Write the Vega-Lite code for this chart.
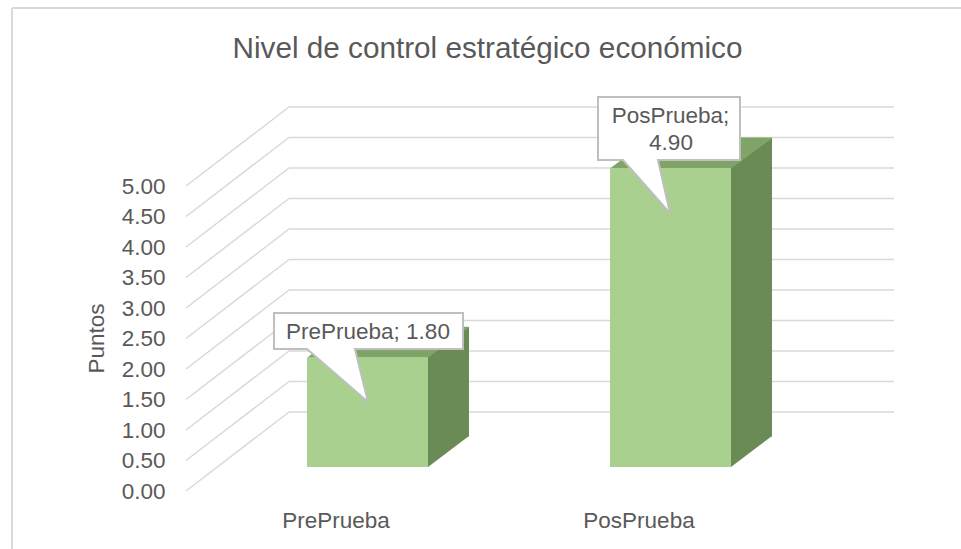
{
  "$schema": "https://vega.github.io/schema/vega-lite/v6.json",
  "width": 708,
  "height": 305,
  "autosize": "none",
  "padding": {"left": 186, "top": 162, "right": 67, "bottom": 82},
  "background": "white",
  "config": {
    "font": "Liberation Sans",
    "view": {"stroke": null},
    "axisY": {
      "domain": false,
      "ticks": false,
      "tickSize": 0,
      "grid": false,
      "labelFontSize": 22.5,
      "labelColor": "#595959",
      "labelOffset": 24,
      "labelPadding": 21,
      "labelOverlap": false,
      "titleFontSize": 22.5,
      "titleFontWeight": "normal",
      "titleColor": "#595959",
      "titleAngle": -90,
      "titleAlign": "center",
      "titleBaseline": "middle",
      "titleX": -89.5,
      "titleY": 176
    }
  },
  "title": {
    "text": "Nivel de control estratégico económico",
    "fontSize": 29.7,
    "fontWeight": "normal",
    "color": "#595959",
    "anchor": "middle",
    "frame": "group",
    "dx": -52.5,
    "baseline": "alphabetic",
    "offset": -81
  },
  "datasets": {
    "pruebas": [
      {"prueba": "PrePrueba", "puntos": 1.8, "linea_inferior": "PrePrueba; 1.80", "linea_superior": ""},
      {"prueba": "PosPrueba", "puntos": 4.9, "linea_inferior": "4.90", "linea_superior": "PosPrueba;"}
    ],
    "niveles": [
      {"nivel": 0}, {"nivel": 0.5}, {"nivel": 1}, {"nivel": 1.5}, {"nivel": 2}, {"nivel": 2.5},
      {"nivel": 3}, {"nivel": 3.5}, {"nivel": 4}, {"nivel": 4.5}, {"nivel": 5}
    ]
  },
  "resolve": {"scale": {"x": "independent"}},
  "layer": [
    {
      "data": {"values": [{}]},
      "mark": {"type": "rule", "color": "#D9D9D9", "strokeWidth": 2, "xOffset": -174, "yOffset": -154, "y2Offset": 82},
      "encoding": {
        "x": {"datum": 0, "type": "quantitative", "scale": {"domain": [0, 1]}, "axis": null},
        "y": {"datum": 5, "type": "quantitative", "axis": {"values": [0, 0.5, 1, 1.5, 2, 2.5, 3, 3.5, 4, 4.5, 5], "format": ".2f", "tickCount": 11, "labelOverlap": false, "title": "Puntos"}},
        "y2": {"datum": 0}
      }
    },
    {
      "data": {"values": [{}]},
      "mark": {"type": "rule", "color": "#D9D9D9", "strokeWidth": 2, "xOffset": -174, "x2Offset": 67, "yOffset": -154},
      "encoding": {
        "x": {"datum": 0, "type": "quantitative", "scale": {"domain": [0, 1]}, "axis": null},
        "x2": {"datum": 1},
        "y": {"datum": 5, "type": "quantitative", "axis": {"values": [0, 0.5, 1, 1.5, 2, 2.5, 3, 3.5, 4, 4.5, 5], "format": ".2f", "tickCount": 11, "labelOverlap": false, "title": "Puntos"}}
      }
    },
    {
      "data": {"name": "niveles"},
      "mark": {"type": "rule", "color": "#D9D9D9", "strokeWidth": 1.5, "xOffset": 103, "yOffset": -55},
      "encoding": {
        "x": {"datum": 0, "type": "quantitative", "scale": {"domain": [0, 1]}, "axis": null},
        "x2": {"datum": 1},
        "y": {"field": "nivel", "type": "quantitative", "axis": {"values": [0, 0.5, 1, 1.5, 2, 2.5, 3, 3.5, 4, 4.5, 5], "format": ".2f", "tickCount": 11, "labelOverlap": false, "title": "Puntos"}}
      }
    },
    {
      "data": {"name": "niveles"},
      "mark": {"type": "rule", "color": "#D9D9D9", "strokeWidth": 1.5, "x2Offset": 103, "yOffset": 24, "y2Offset": -55},
      "encoding": {
        "x": {"datum": 0, "type": "quantitative", "scale": {"domain": [0, 1]}, "axis": null},
        "x2": {"datum": 0},
        "y": {"field": "nivel", "type": "quantitative", "axis": {"values": [0, 0.5, 1, 1.5, 2, 2.5, 3, 3.5, 4, 4.5, 5], "format": ".2f", "tickCount": 11, "labelOverlap": false, "title": "Puntos"}},
        "y2": {"field": "nivel"}
      }
    },
    {
      "data": {"name": "pruebas"},
      "encoding": {
        "x": {
          "field": "prueba",
          "type": "nominal",
          "sort": ["PrePrueba", "PosPrueba"],
          "scale": {"paddingInner": 0.6007, "paddingOuter": 0.4686, "align": 0.426},
          "axis": {
            "title": null,
            "domain": false,
            "ticks": false,
            "tickSize": 0,
            "grid": false,
            "labelAngle": 0,
            "labelFontSize": 22.5,
            "labelColor": "#595959",
            "labelOffset": -31.5,
            "labelPadding": 60,
            "labelBaseline": "alphabetic"
          }
        },
        "y": {
          "field": "puntos",
          "type": "quantitative",
          "scale": {"domain": [0, 5], "nice": false},
          "axis": {"values": [0, 0.5, 1, 1.5, 2, 2.5, 3, 3.5, 4, 4.5, 5], "format": ".2f", "tickCount": 11, "labelOverlap": false, "title": "Puntos"}
        }
      },
      "layer": [
        {
          "mark": {"type": "bar", "width": 41, "xOffset": 81, "y2Offset": -30.5, "color": "#6A8A56"},
          "encoding": {"y2": {"datum": 0}}
        },
        {
          "mark": {"type": "point", "filled": true, "opacity": 1, "size": 40000, "color": "#6A8A56", "shape": "M0.605,-0.31 L1.015,-0.31 L0.605,0 Z"},
          "encoding": {"y": {"datum": 0, "type": "quantitative", "axis": {"values": [0, 0.5, 1, 1.5, 2, 2.5, 3, 3.5, 4, 4.5, 5], "format": ".2f", "tickCount": 11, "labelOverlap": false, "title": "Puntos"}}}
        },
        {
          "mark": {"type": "point", "filled": true, "opacity": 1, "size": 40000, "color": "#6A8A56", "shape": "M0.6,0 L1.015,-0.305 L1.015,0.01 L0.6,0.01 Z"}
        },
        {
          "mark": {"type": "point", "filled": true, "opacity": 1, "size": 40000, "color": "#80A468", "shape": "M-0.605,0.005 L0.605,0.005 L1.015,-0.305 L-0.195,-0.305 Z"}
        },
        {
          "mark": {"type": "bar", "color": "#A9D08E"}
        },
        {
          "mark": {"type": "point", "filled": true, "opacity": 1, "size": 40000, "fill": "#FFFFFF", "stroke": "#BFBFBF", "strokeWidth": 2},
          "encoding": {
            "shape": {
              "field": "prueba",
              "type": "nominal",
              "scale": {
                "domain": ["PrePrueba", "PosPrueba"],
                "range": [
                  "M-0.935,-0.443 L0.955,-0.443 L0.955,-0.083 L-0.125,-0.083 L0.005,0.447 L-0.605,-0.083 L-0.935,-0.083 Z",
                  "M-0.725,-0.71 L0.695,-0.71 L0.695,-0.08 L-0.125,-0.08 L-0.005,0.45 L-0.475,-0.08 L-0.725,-0.08 Z"
                ]
              },
              "legend": null
            }
          }
        },
        {
          "mark": {"type": "text", "fontSize": 22.5, "color": "#595959", "align": "center", "baseline": "alphabetic", "dy": -18, "dx": 0.5},
          "encoding": {"text": {"field": "linea_inferior", "type": "nominal"}}
        },
        {
          "mark": {"type": "text", "fontSize": 22.5, "color": "#595959", "align": "center", "baseline": "alphabetic", "dy": -44.7, "dx": 0},
          "encoding": {"text": {"field": "linea_superior", "type": "nominal"}}
        }
      ]
    }
  ]
}
